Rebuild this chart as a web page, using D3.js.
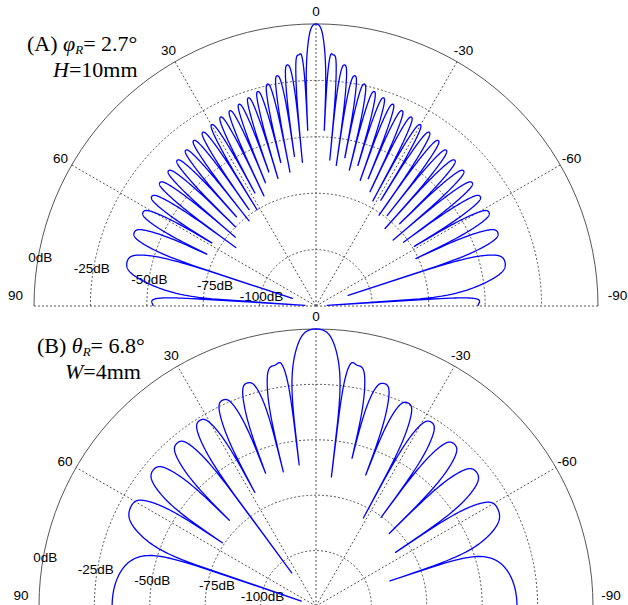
<!DOCTYPE html>
<html><head><meta charset="utf-8">
<script src="https://cdn.jsdelivr.net/npm/d3@7"></script>
<style>body{margin:0;background:#fff} svg{display:block}</style>
</head><body><svg id="c" width="628" height="605"></svg>
<script>
// ---------- axis data ----------
const ringTicks  = [0, -25, -50, -75, -100];
const ringLabels = ["0dB", "-25dB", "-50dB", "-75dB", "-100dB"];
const spokeAngles = [0, 30, 60, 90, -30, -60, -90];
const spokeLabels = ["0", "30", "60", "90", "-30", "-60", "-90"];

// ---------- panel A : phi_R = 2.7 deg, H = 10 mm ----------
const A_nullDeg = [2.7, 5.4, 8.2, 11.0, 13.8, 16.6, 19.4, 22.3, 25.3, 28.4, 31.5, 34.8, 38.2, 41.7, 45.5, 49.5, 53.9, 58.8, 64.6, 71.9, 86.5];
const A_peakDeg = [4.1, 6.8, 9.6, 12.3, 15.2, 18.0, 20.9, 23.8, 26.8, 29.9, 33.1, 36.5, 39.9, 43.6, 47.5, 51.7, 56.3, 61.5, 68.0, 77.0, 90];
const A_peakDbL = [-13.5, -17.4, -21.5, -24.3, -26.5, -28.0, -29.3, -30.4, -31.2, -32.3, -33.1, -33.8, -35.0, -35.8, -36.3, -36.8, -37.5, -37.8, -38.1, -39.0, -52.8];
const A_peakDbR = [-13.5, -17.4, -21.5, -24.3, -26.5, -28.0, -29.3, -30.4, -31.2, -32.3, -33.1, -33.8, -35.0, -35.8, -36.3, -36.8, -37.5, -37.8, -38.1, -39.0, -53.2];
const A_nullDbL = [-47, -61, -58, -64.5, -59.4, -66, -62, -66, -71, -68, -75, -73, -77, -72, -75, -78, -81, -71, -71.4, -114, -120];
const A_nullDbR = [-47, -60, -62, -58, -63, -60, -66, -64, -69, -72, -70, -76, -74, -79, -73, -80, -77, -74, -76, -110, -120];

// ---------- panel B : theta_R = 6.8 deg, W = 4 mm ----------
const B_nullDeg = [6.8, 13.7, 20.8, 28.3, 36.3, 45.3, 56.0, 71.3];
const B_peakDeg = [10.1, 17.2, 24.4, 32.1, 40.4, 50.0, 61.5, 90];
const B_peakDbL = [-14.9, -19.7, -23.0, -26.2, -28.4, -29.3, -30.2, -33.0];
const B_peakDbR = [-14.9, -20.0, -24.4, -27.1, -28.9, -30.7, -32.0, -34.3];
const B_nullDbL = [-60.9, -62.7, -60.9, -66.8, -106.5, -70.0, -74.0, -118];
const B_nullDbR = [-66.3, -56.4, -61.8, -79.9, -75.4, -78.5, -81.7, -89.8];

// ---------- drawing ----------
const svg = d3.select("#c");
const DEG = Math.PI / 180;
const NS = 90;
const SANS = "'Liberation Sans', Arial, sans-serif";
const SERIF = "'Liberation Serif', 'Times New Roman', serif";

function buildNodes(nullDeg, peakDeg, peakDbL, peakDbR, nullDbL, nullDbR) {
  const nodes = [];
  const M = nullDeg.length;
  for (let k = M; k >= 1; k--) {
    const s = (k % 2 === 0) ? 1 : -1;
    nodes.push({deg: -peakDeg[k-1], a: s * Math.pow(10, peakDbR[k-1] / 20), isNull: false});
    nodes.push({deg: -nullDeg[k-1], a: 0, isNull: true, depth: nullDbR[k-1]});
  }
  nodes.push({deg: 0, a: 1, isNull: false});
  for (let k = 1; k <= M; k++) {
    const s = (k % 2 === 0) ? 1 : -1;
    nodes.push({deg: nullDeg[k-1], a: 0, isNull: true, depth: nullDbL[k-1]});
    nodes.push({deg: peakDeg[k-1], a: s * Math.pow(10, peakDbL[k-1] / 20), isNull: false});
  }
  nodes.forEach(n => n.u = Math.sin(n.deg * DEG));
  return nodes;
}

// D3 cardinal curve through the nodes (node index vs signed amplitude), sampled
function sampleCurve(nodes) {
  const out = [];
  let x0, y0, seg = 0;
  const floorOf = s => {
    const n0 = nodes[s], n1 = nodes[Math.min(s + 1, nodes.length - 1)];
    return n0.isNull ? n0.depth : (n1.isNull ? n1.depth : -125);
  };
  const toU = (x, s) => {
    const n0 = nodes[s], n1 = nodes[Math.min(s + 1, nodes.length - 1)];
    const f = Math.max(0, Math.min(1, x - s));
    return n0.u + f * (n1.u - n0.u);
  };
  const ctx = {
    moveTo(x, y) { x0 = x; y0 = y; out.push({u: nodes[0].u, a: y, f: floorOf(0)}); },
    lineTo(x, y) { out.push({u: toU(x, seg), a: y, f: floorOf(seg)}); seg++; x0 = x; y0 = y; },
    bezierCurveTo(x1, y1, x2, y2, x, y) {
      const f = floorOf(seg);
      for (let i = 1; i <= NS; i++) {
        const t = i / NS, m = 1 - t;
        const bx = m*m*m*x0 + 3*m*m*t*x1 + 3*m*t*t*x2 + t*t*t*x;
        const by = m*m*m*y0 + 3*m*m*t*y1 + 3*m*t*t*y2 + t*t*t*y;
        out.push({u: toU(bx, seg), a: by, f: f});
      }
      seg++; x0 = x; y0 = y;
    },
    closePath() {}
  };
  d3.line().x((d, i) => i).y(d => d.a).curve(d3.curveCardinal.tension(-0.5)).context(ctx)(nodes);
  out.forEach(p => {
    p.u = Math.max(-1, Math.min(1, p.u));
    const db = Math.abs(p.a) > 0 ? 20 * Math.log10(Math.abs(p.a)) : -Infinity;
    p.db = Math.max(db, p.f, -125);
  });
  return out;
}

function drawPolar(cx, cy, R, nodes, labelOffsets, farShift) {
  const g = svg.append("g").attr("transform", `translate(${cx},${cy})`);
  const r = d3.scaleLinear().domain([-125, 0]).range([0, R]);
  const pt = (deg, rad) => [-rad * Math.sin(deg * DEG), -rad * Math.cos(deg * DEG)];

  ringTicks.forEach((v, i) => {
    if (i === 0) return;
    const p = d3.path(); p.arc(0, 0, r(v), Math.PI, 2 * Math.PI);
    g.append("path").attr("d", p.toString()).attr("fill", "none")
      .attr("stroke", "#444").attr("stroke-width", 0.9).attr("stroke-dasharray", "2,2");
  });
  spokeAngles.forEach(a => {
    const [x, y] = pt(a, R);
    g.append("line").attr("x1", 0).attr("y1", 0).attr("x2", x).attr("y2", y)
      .attr("stroke", "#444").attr("stroke-width", 0.9).attr("stroke-dasharray", "2,2");
  });
  const po = d3.path(); po.arc(0, 0, r(0), Math.PI, 2 * Math.PI);
  g.append("path").attr("d", po.toString()).attr("fill", "none")
    .attr("stroke", "#555").attr("stroke-width", 1);

  spokeAngles.forEach((a, i) => {
    const far = Math.abs(a) === 90;
    let [x, y] = far ? pt(Math.sign(a) * 88, R * 1.066) : pt(a, R * 1.046);
    if (a === -90) x += farShift;
    g.append("text").attr("x", x).attr("y", y)
      .attr("text-anchor", "middle").attr("dominant-baseline", "central")
      .attr("font-family", SANS).attr("font-size", 13.5)
      .text(spokeLabels[i]);
  });
  ringTicks.forEach((v, i) => {
    const [x, y] = pt(80, r(v));
    g.append("text").attr("x", x + labelOffsets[i][0]).attr("y", y + labelOffsets[i][1])
      .attr("text-anchor", "middle").attr("dominant-baseline", "central")
      .attr("font-family", SANS).attr("font-size", 13.5)
      .text(ringLabels[i]);
  });

  const samples = sampleCurve(nodes);
  const line = d3.lineRadial()
    .angle(p => -Math.asin(p.u))
    .radius(p => r(p.db))
    .curve(d3.curveLinear);
  g.append("path").attr("d", line(samples)).attr("fill", "none")
    .attr("stroke", "#0000ff").attr("stroke-width", 1.3).attr("stroke-linejoin", "round");
}

const offs = [[2, 0], [-2, 2], [0, 3], [10, -1], [1, 0]];
drawPolar(316, 306, 282, buildNodes(A_nullDeg, A_peakDeg, A_peakDbL, A_peakDbR, A_nullDbL, A_nullDbR), offs, 1);
drawPolar(316, 606, 277, buildNodes(B_nullDeg, B_peakDeg, B_peakDbL, B_peakDbR, B_nullDbL, B_nullDbR), offs, 0);

function title(x1, y1, lead, sym, val, x2, y2, var2, val2) {
  const t = svg.append("text").attr("x", x1).attr("y", y1)
    .attr("font-family", SERIF).attr("font-size", 22);
  t.append("tspan").text(lead);
  t.append("tspan").attr("font-style", "italic").text(sym);
  t.append("tspan").attr("font-style", "italic").attr("font-size", 13).attr("dy", 3).text("R");
  t.append("tspan").attr("dy", -3).text(val);
  const t2 = svg.append("text").attr("x", x2).attr("y", y2)
    .attr("font-family", SERIF).attr("font-size", 22);
  t2.append("tspan").attr("font-style", "italic").text(var2);
  t2.append("tspan").text(val2);
}
title(27, 51, "(A) ", "φ", "= 2.7°", 53, 76.5, "H", "=10mm");
title(37, 353, "(B) ", "θ", "= 6.8°", 65, 378.5, "W", "=4mm");
</script></body></html>
